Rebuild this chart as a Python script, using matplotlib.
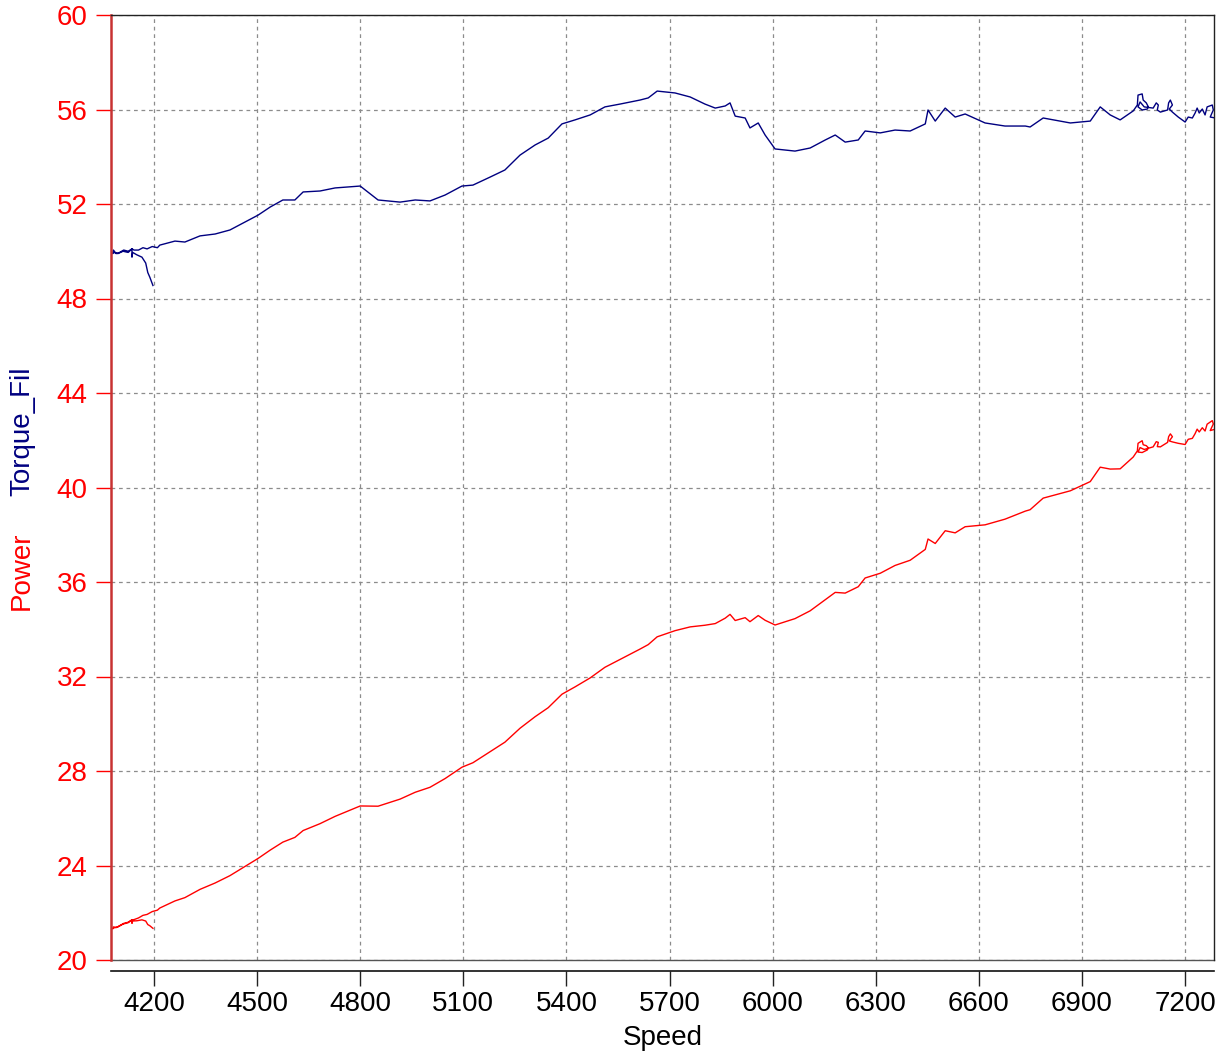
import matplotlib
matplotlib.use("Agg")
import matplotlib.pyplot as plt

plt.rcParams['font.family'] = ['Liberation Sans', 'DejaVu Sans']

speed = [4197, 4188, 4182, 4176, 4165, 4150, 4138, 4136, 4136, 4125, 4110, 4095, 4085, 4080,
         4082, 4090, 4100, 4112, 4125, 4136, 4142, 4155, 4168, 4180, 4195, 4210,
         4217, 4261, 4290, 4334, 4378, 4421, 4465, 4503, 4538, 4575, 4610, 4634, 4683, 4727,
         4800, 4852, 4916, 4960, 5003, 5047, 5096, 5128, 5178, 5221, 5265, 5309, 5347, 5387,
         5425, 5469, 5512, 5556, 5614, 5638, 5664, 5716, 5760, 5803, 5833, 5862, 5876, 5891,
         5920, 5934, 5958, 5978, 6007, 6065, 6109, 6153, 6182, 6211, 6249, 6269, 6313, 6356,
         6400, 6444, 6452, 6473, 6502, 6531, 6560, 6618, 6676, 6735,
         6749, 6787, 6866, 6924, 6953, 6982,
         7011, 7049, 7061, 7063, 7075, 7078, 7087, 7093, 7090, 7075, 7063, 7069, 7081, 7107,
         7116, 7122, 7119, 7128, 7149, 7152, 7157, 7163, 7154, 7163, 7180, 7200, 7209, 7221,
         7229, 7235, 7241, 7250, 7258, 7264, 7279, 7282, 7273, 7288]

torque = [48.55, 48.90, 49.10, 49.50, 49.75, 49.85, 49.95, 49.75, 50.10, 49.95, 50.00, 49.90, 49.95, 49.90,
          50.05, 49.90, 49.95, 50.05, 50.00, 50.10, 50.05, 50.05, 50.15, 50.10, 50.20, 50.15,
          50.26, 50.43, 50.39, 50.65, 50.73, 50.90, 51.24, 51.53, 51.87, 52.17, 52.17, 52.51, 52.55, 52.68,
          52.76, 52.17, 52.08, 52.17, 52.13, 52.38, 52.76, 52.80, 53.14, 53.44, 54.07, 54.50, 54.79, 55.39,
          55.56, 55.77, 56.11, 56.23, 56.40, 56.49, 56.78, 56.70, 56.53, 56.23, 56.06, 56.15, 56.28, 55.72,
          55.64, 55.22, 55.43, 54.92, 54.33, 54.24, 54.37, 54.71, 54.92, 54.62, 54.71, 55.09, 55.01, 55.13,
          55.09, 55.39, 55.98, 55.51, 56.06, 55.68, 55.81, 55.43, 55.30, 55.30,
          55.26, 55.64, 55.43, 55.51, 56.11, 55.77,
          55.56, 55.94, 56.19, 56.61, 56.66, 56.40, 56.28, 56.11, 56.02, 55.98, 56.11, 56.32, 56.11, 56.06,
          56.28, 56.19, 55.98, 55.89, 55.98, 56.28, 56.40, 56.19, 56.02, 55.89, 55.68, 55.47, 55.68, 55.64,
          55.85, 56.06, 55.85, 56.02, 55.77, 56.11, 56.19, 55.98, 55.68, 55.64]

power = [21.34, 21.45, 21.50, 21.65, 21.70, 21.66, 21.65, 21.55, 21.70, 21.58, 21.52, 21.40, 21.37, 21.32,
         21.40, 21.37, 21.45, 21.55, 21.60, 21.70, 21.71, 21.78, 21.89, 21.93, 22.05, 22.11,
         22.20, 22.50, 22.64, 22.99, 23.26, 23.57, 23.96, 24.30, 24.65, 24.99, 25.19, 25.48, 25.77, 26.08,
         26.52, 26.51, 26.81, 27.10, 27.31, 27.68, 28.16, 28.35, 28.82, 29.22, 29.81, 30.30, 30.68, 31.25,
         31.56, 31.94, 32.39, 32.72, 33.16, 33.35, 33.68, 33.94, 34.10, 34.17, 34.24, 34.47, 34.63, 34.37,
         34.49, 34.32, 34.58, 34.38, 34.18, 34.45, 34.78, 35.25, 35.56, 35.53, 35.80, 36.17, 36.37, 36.70,
         36.92, 37.38, 37.82, 37.63, 38.17, 38.08, 38.34, 38.42, 38.66, 39.00,
         39.06, 39.55, 39.86, 40.25, 40.86, 40.78,
         40.79, 41.29, 41.55, 41.87, 41.98, 41.81, 41.77, 41.68, 41.59, 41.48, 41.50, 41.69, 41.61, 41.72,
         41.94, 41.91, 41.73, 41.72, 41.91, 42.15, 42.27, 42.15, 41.97, 41.93, 41.87, 41.82, 42.04, 42.08,
         42.28, 42.47, 42.35, 42.53, 42.39, 42.68, 42.83, 42.69, 42.41, 42.47]

xticks = [4200, 4500, 4800, 5100, 5400, 5700, 6000, 6300, 6600, 6900, 7200]
yticks = [20, 24, 28, 32, 36, 40, 44, 48, 52, 56, 60]

W, H = 1223, 1057
fig = plt.figure(figsize=(W / 100, H / 100), dpi=100)
ax = fig.add_axes([111 / W, 1 - 960 / H, (1214 - 111) / W, (960 - 15) / H])

ax.plot(speed, torque, color='#000080', lw=1.0)
ax.plot(speed, power, color='#ff0000', lw=1.0)

ax.set_xlim(4075, 7284)
ax.set_ylim(20, 60)
ax.set_xticks(xticks)
ax.set_yticks(yticks)
ax.set_xticklabels([str(v) for v in xticks])
ax.set_yticklabels([str(v) for v in yticks])

ax.grid(True, color='#8c8c8c', linestyle=(0, (3, 3)), linewidth=0.9)

for s in ['top', 'right']:
    ax.spines[s].set_color('#222222')
    ax.spines[s].set_linewidth(1.0)
ax.spines['left'].set_color('#c83232')
ax.spines['left'].set_linewidth(1.8)
ax.spines['bottom'].set_position(('outward', 8))
ax.spines['bottom'].set_color('#111111')
ax.spines['bottom'].set_linewidth(1.2)
ax.plot([0, 1], [0, 0], transform=ax.transAxes, color='#555555', lw=1.0, clip_on=False)

ax.tick_params(axis='y', which='both', length=11, width=1.0, color='#ff0000',
               labelcolor='#ff0000', labelsize=20, pad=6, right=False)
ax.tick_params(axis='x', which='both', length=11, width=1.0, color='#222222',
               labelcolor='black', labelsize=20, pad=3, top=False)

ax.set_xlabel('Speed', fontsize=20, labelpad=6)

fig.text(22 / W, 1 - 571 / H, 'Power', color='#ff0000', fontsize=20, rotation=90,
         ha='center', va='center')
fig.text(22 / W, 1 - 431 / H, 'Torque_Fil', color='#000080', fontsize=20, rotation=90,
         ha='center', va='center')

fig.savefig('out.png', dpi=100)
